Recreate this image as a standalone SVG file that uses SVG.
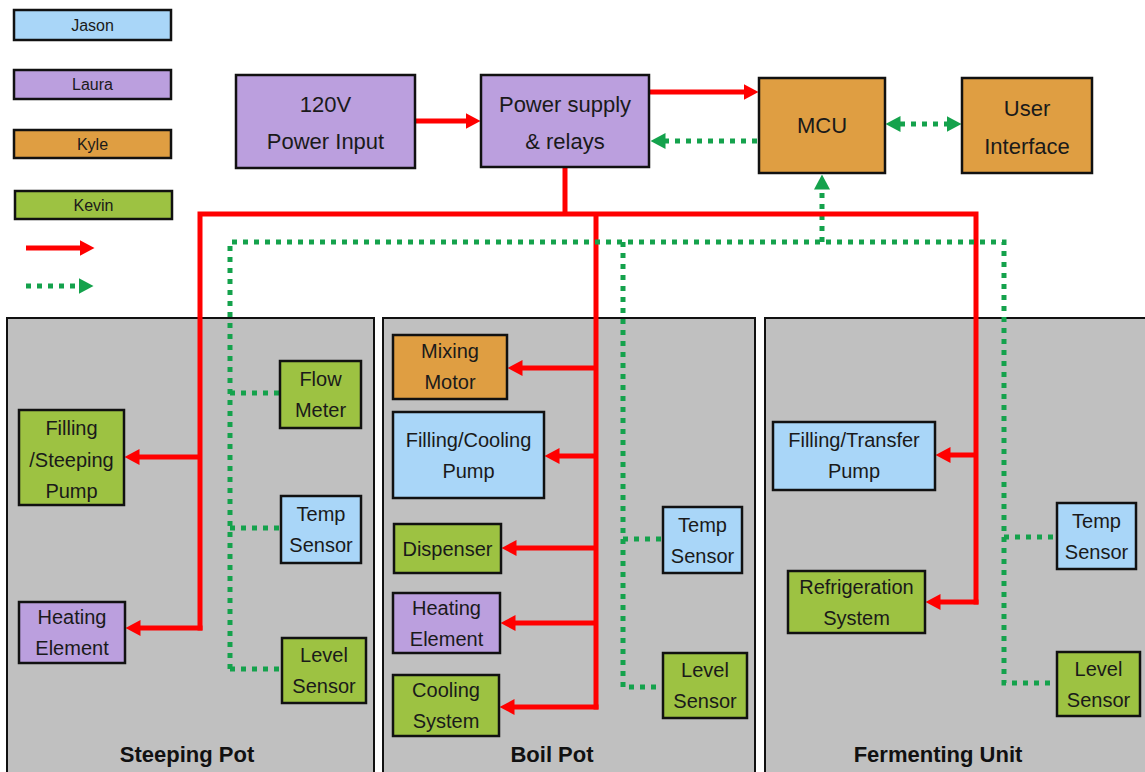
<svg xmlns="http://www.w3.org/2000/svg" width="1145" height="772" viewBox="0 0 1145 772">
<defs>
<style>
.box{stroke:#111;stroke-width:2.5}
.b{fill:#A9D6F8}.p{fill:#BB9FDE}.o{fill:#DF9E42}.g{fill:#9DC242}
.panel{fill:#C0C0C0;stroke:#111;stroke-width:2}
text{font-family:"Liberation Sans",Arial,sans-serif;fill:#1a1a1a;text-anchor:middle}
.t16{font-size:16px}.t20{font-size:20px}.t22{font-size:22px}
.lbl{font-size:22px;font-weight:bold;fill:#111}
.red{fill:none;stroke:#FF0000;stroke-width:5}
.grn{fill:none;stroke:#14A24C;stroke-width:5;stroke-dasharray:5 6}
</style>
<marker id="ra" viewBox="0 0 15 16" refX="0.5" refY="8" markerWidth="15" markerHeight="16" markerUnits="userSpaceOnUse" orient="auto-start-reverse"><path d="M0,0 L15,8 L0,16 z" fill="#FF0000"/></marker>
<marker id="ga" viewBox="0 0 15 16" refX="0.5" refY="8" markerWidth="15" markerHeight="16" markerUnits="userSpaceOnUse" orient="auto-start-reverse"><path d="M0,0 L15,8 L0,16 z" fill="#14A24C"/></marker>
</defs>
<rect width="1145" height="772" fill="#fff"/>

<g id="panels">
<rect class="panel" x="7" y="318" width="367" height="470"/>
<rect class="panel" x="383" y="318" width="372" height="470"/>
<rect class="panel" x="765" y="318" width="390" height="470"/>
<text class="lbl" x="187" y="762">Steeping Pot</text>
<text class="lbl" x="552" y="762">Boil Pot</text>
<text class="lbl" x="938" y="762">Fermenting Unit</text>
</g>

<g id="legend">
<rect class="box b" x="14" y="10" width="157" height="30"/><text class="t16" x="92.5" y="31">Jason</text>
<rect class="box p" x="14" y="70" width="157" height="29"/><text class="t16" x="92.5" y="90">Laura</text>
<rect class="box o" x="14" y="130" width="157" height="28"/><text class="t16" x="92.5" y="150">Kyle</text>
<rect class="box g" x="15" y="191" width="157" height="28"/><text class="t16" x="93.5" y="211">Kevin</text>
<line class="red" x1="26" y1="248" x2="80" y2="248" marker-end="url(#ra)"/>
<line class="grn" x1="26" y1="286" x2="79" y2="286" marker-end="url(#ga)"/>
</g>

<g id="connectors">
<!-- top -->
<line class="red" x1="415" y1="121" x2="466" y2="121" marker-end="url(#ra)"/>
<line class="red" x1="649" y1="92" x2="744" y2="92" marker-end="url(#ra)"/>
<line class="grn" x1="757" y1="141" x2="665" y2="141" marker-end="url(#ga)"/>
<line class="grn" x1="900" y1="124" x2="947" y2="124" marker-start="url(#ga)" marker-end="url(#ga)"/>
<line class="grn" x1="822" y1="242" x2="822" y2="189" marker-end="url(#ga)"/>
<!-- red bus -->
<path class="red" d="M565,167 V214"/>
<path class="red" d="M200,630.5 V214 H976 V604.5"/>
<path class="red" d="M596,214 V709.5"/>
<!-- steeping red -->
<line class="red" x1="200" y1="457" x2="139" y2="457" marker-end="url(#ra)"/>
<line class="red" x1="202.5" y1="628" x2="140" y2="628" marker-end="url(#ra)"/>
<!-- boil red -->
<line class="red" x1="596" y1="368" x2="522" y2="368" marker-end="url(#ra)"/>
<line class="red" x1="596" y1="456" x2="559" y2="456" marker-end="url(#ra)"/>
<line class="red" x1="596" y1="548" x2="516" y2="548" marker-end="url(#ra)"/>
<line class="red" x1="596" y1="623" x2="515" y2="623" marker-end="url(#ra)"/>
<line class="red" x1="598.5" y1="707" x2="514" y2="707" marker-end="url(#ra)"/>
<!-- ferment red -->
<line class="red" x1="976" y1="455" x2="950" y2="455" marker-end="url(#ra)"/>
<line class="red" x1="978.5" y1="602" x2="940" y2="602" marker-end="url(#ra)"/>
<!-- green bus -->
<path class="grn" d="M230,669 V242 H1004 V683 H1057"/>
<path class="grn" d="M230,393 H280"/>
<path class="grn" d="M230,528 H281"/>
<path class="grn" d="M230,669 H282"/>
<path class="grn" d="M623,242 V687 H663"/>
<path class="grn" d="M623,539 H663"/>
<path class="grn" d="M1004,537 H1057"/>
</g>

<g id="n120v"><rect class="box p" x="236" y="75" width="179" height="93"/><text class="t22" x="325.5" y="112">120V</text><text class="t22" x="325.5" y="149">Power Input</text></g>
<g id="npsu"><rect class="box p" x="481" y="75" width="168" height="92"/><text class="t22" x="565" y="112">Power supply</text><text class="t22" x="565" y="149">&amp; relays</text></g>
<g id="nmcu"><rect class="box o" x="759" y="78" width="126" height="95"/><text class="t22" x="822" y="133">MCU</text></g>
<g id="nui"><rect class="box o" x="962" y="78" width="130" height="95"/><text class="t22" x="1027" y="116">User</text><text class="t22" x="1027" y="154">Interface</text></g>

<g id="sp_flow"><rect class="box g" x="280" y="361" width="81" height="67"/><text class="t20" x="320.5" y="386">Flow</text><text class="t20" x="320.5" y="417">Meter</text></g>
<g id="sp_pump"><rect class="box g" x="19" y="410" width="105" height="95"/><text class="t20" x="71.5" y="435">Filling</text><text class="t20" x="71.5" y="467">/Steeping</text><text class="t20" x="71.5" y="498">Pump</text></g>
<g id="sp_temp"><rect class="box b" x="281" y="496" width="80" height="67"/><text class="t20" x="321" y="521">Temp</text><text class="t20" x="321" y="552">Sensor</text></g>
<g id="sp_heat"><rect class="box p" x="19" y="602" width="106" height="61"/><text class="t20" x="72" y="624">Heating</text><text class="t20" x="72" y="655">Element</text></g>
<g id="sp_level"><rect class="box g" x="282" y="638" width="84" height="65"/><text class="t20" x="324" y="662">Level</text><text class="t20" x="324" y="693">Sensor</text></g>

<g id="bp_mix"><rect class="box o" x="393" y="335" width="114" height="64"/><text class="t20" x="450" y="358">Mixing</text><text class="t20" x="450" y="389">Motor</text></g>
<g id="bp_pump"><rect class="box b" x="393" y="412" width="151" height="86"/><text class="t20" x="468.5" y="447">Filling/Cooling</text><text class="t20" x="468.5" y="478">Pump</text></g>
<g id="bp_disp"><rect class="box g" x="394" y="524" width="107" height="49"/><text class="t20" x="447.5" y="556">Dispenser</text></g>
<g id="bp_heat"><rect class="box p" x="393" y="593" width="107" height="60"/><text class="t20" x="446.5" y="615">Heating</text><text class="t20" x="446.5" y="646">Element</text></g>
<g id="bp_cool"><rect class="box g" x="393" y="675" width="106" height="61"/><text class="t20" x="446" y="697">Cooling</text><text class="t20" x="446" y="728">System</text></g>
<g id="bp_temp"><rect class="box b" x="663" y="507" width="79" height="66"/><text class="t20" x="702.5" y="532">Temp</text><text class="t20" x="702.5" y="563">Sensor</text></g>
<g id="bp_level"><rect class="box g" x="663" y="653" width="84" height="65"/><text class="t20" x="705" y="677">Level</text><text class="t20" x="705" y="708">Sensor</text></g>

<g id="fu_pump"><rect class="box b" x="773" y="422" width="162" height="68"/><text class="t20" x="854" y="447">Filling/Transfer</text><text class="t20" x="854" y="478">Pump</text></g>
<g id="fu_refr"><rect class="box g" x="788" y="571" width="137" height="62"/><text class="t20" x="856.5" y="594">Refrigeration</text><text class="t20" x="856.5" y="625">System</text></g>
<g id="fu_temp"><rect class="box b" x="1057" y="503" width="79" height="66"/><text class="t20" x="1096.5" y="528">Temp</text><text class="t20" x="1096.5" y="559">Sensor</text></g>
<g id="fu_level"><rect class="box g" x="1057" y="652" width="83" height="64"/><text class="t20" x="1098.5" y="676">Level</text><text class="t20" x="1098.5" y="707">Sensor</text></g>
</svg>
